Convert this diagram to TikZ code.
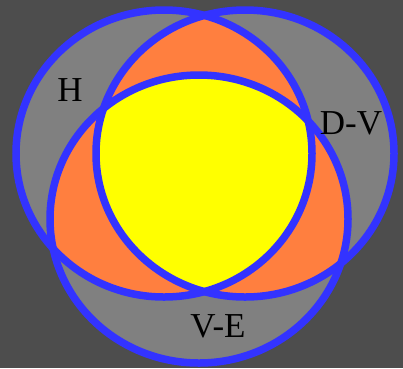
\documentclass[tikz,border=0pt]{standalone}
\usepackage{fontspec}
\setmainfont{Liberation Serif}
\usepackage{tikz}

\definecolor{bgdark}{RGB}{77,77,77}
\definecolor{setgray}{RGB}{128,128,128}
\definecolor{setorange}{RGB}{255,127,63}
\definecolor{setyellow}{RGB}{255,255,0}
\definecolor{setblue}{RGB}{51,51,255}

\newcommand{\pathH}{(H) ellipse [x radius=148pt, y radius=143.5pt]}
\newcommand{\pathDV}{(DV) ellipse [x radius=149pt, y radius=143.5pt]}
\newcommand{\pathVE}{(VE) ellipse [x radius=149pt, y radius=144pt]}

\begin{document}
\begin{tikzpicture}[
  x=1pt, y=-1pt,
  rim/.style={draw=setblue, line width=7.5pt},
  lbl/.style={font=\fontsize{35}{35}\selectfont, text=black, inner sep=0pt},
]
\fill[bgdark] (0,0) rectangle (403,368);
\useasboundingbox (0,0) rectangle (403,368);
\coordinate (H) at (164,153.5);
\coordinate (DV) at (245,153.5);
\coordinate (VE) at (199,219);
% single sets
\fill[setgray] \pathH;
\fill[setgray] \pathDV;
\fill[setgray] \pathVE;
% pairwise overlaps
\begin{scope}
  \clip \pathH;
  \fill[setorange] \pathDV;
  \fill[setorange] \pathVE;
\end{scope}
\begin{scope}
  \clip \pathDV;
  \fill[setorange] \pathVE;
\end{scope}
% all three
\begin{scope}
  \clip \pathH;
  \clip \pathDV;
  \fill[setyellow] \pathVE;
\end{scope}
\draw[rim] \pathH;
\draw[rim] \pathDV;
\draw[rim] \pathVE;
\node[lbl] (labH) at (70,90) {H};
\node[lbl] (labDV) at (351,123.5) {D-V};
\node[lbl] (labVE) at (218,326.5) {V-E};
\end{tikzpicture}
\end{document}
